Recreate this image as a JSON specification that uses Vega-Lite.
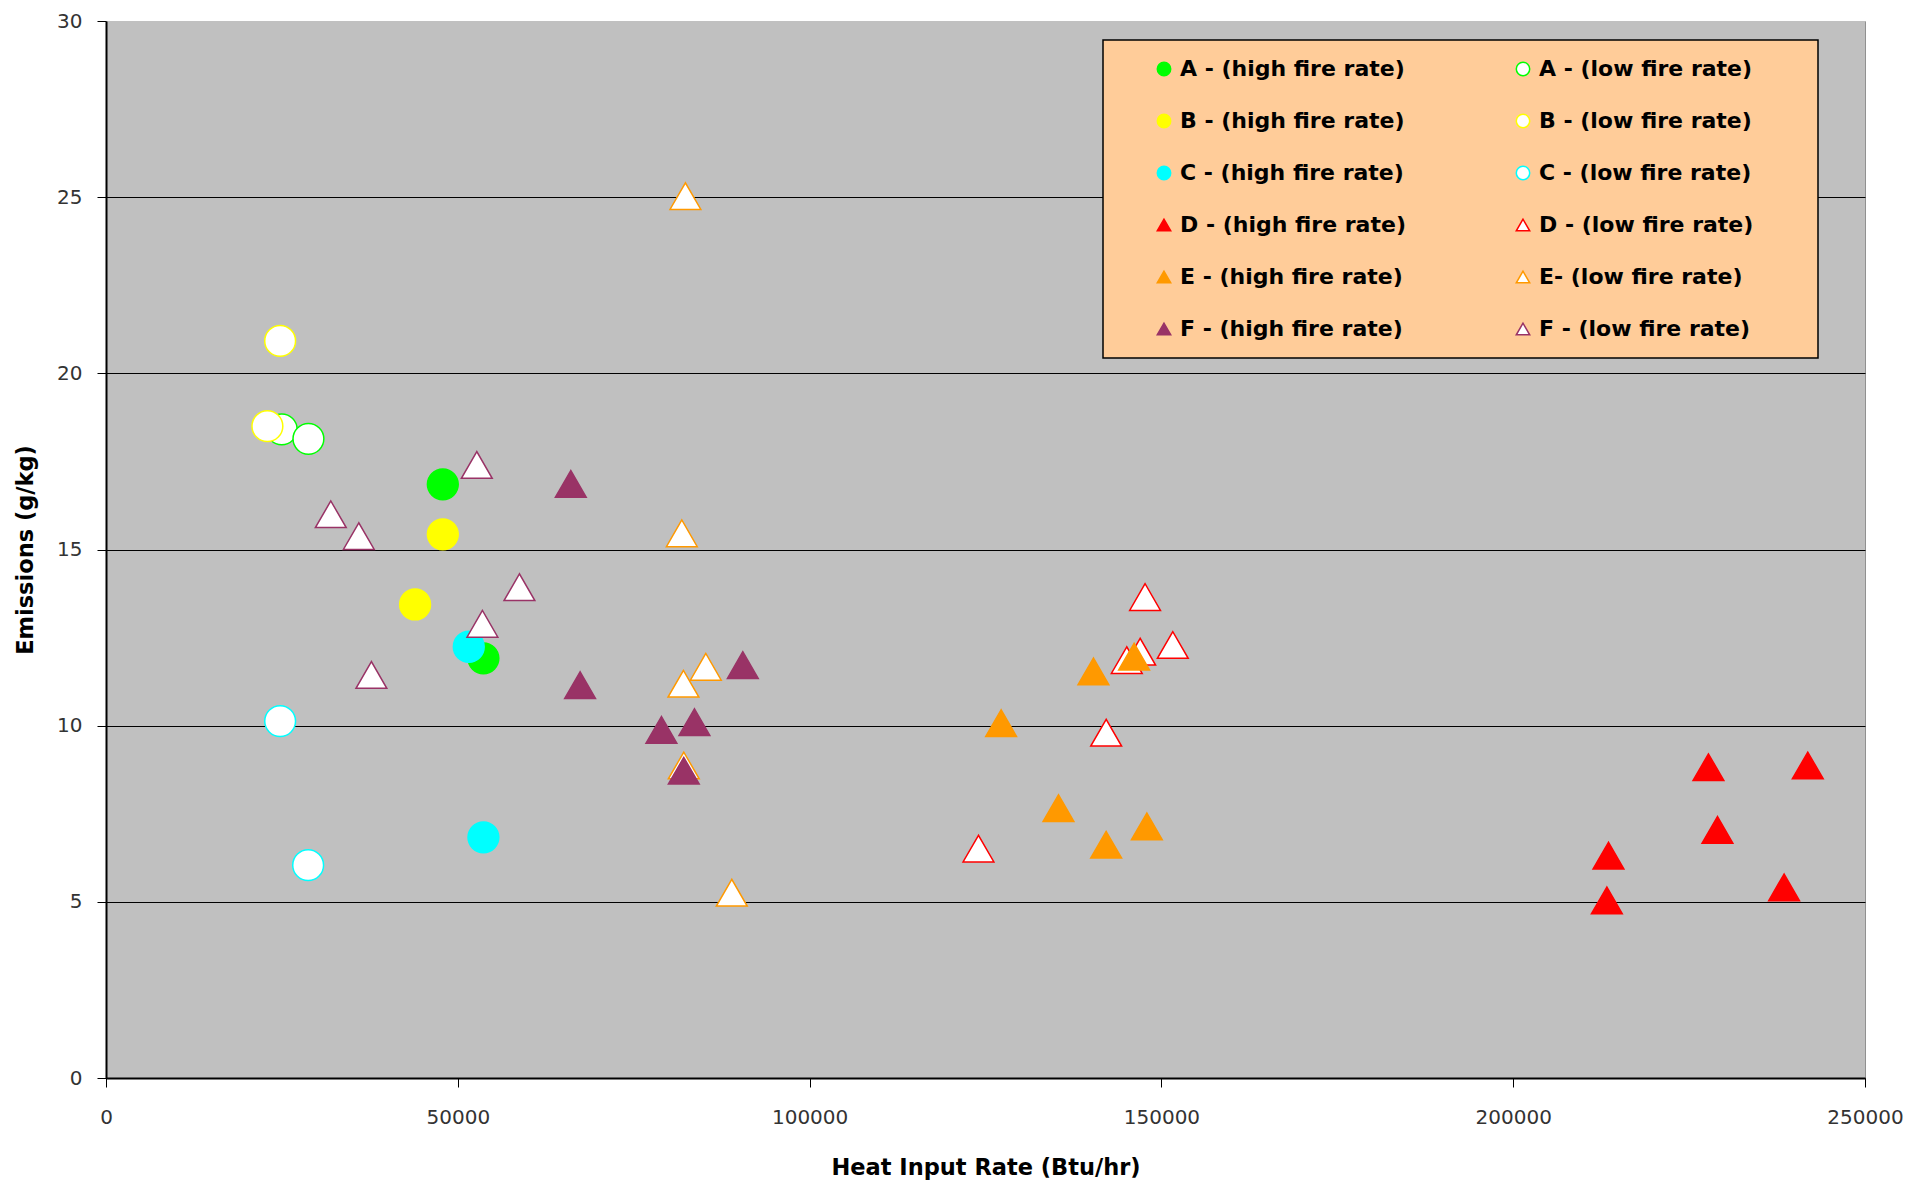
{
  "$schema": "https://vega.github.io/schema/vega-lite/v6.json",
  "width": 1759,
  "height": 1057,
  "autosize": {"type": "none"},
  "padding": {"left": 106, "top": 21, "right": 65, "bottom": 105},
  "background": "white",
  "config": {
    "view": {"fill": "#C0C0C0", "stroke": "#909090", "strokeWidth": 1},
    "font": "DejaVu Sans",
    "legend": {
      "orient": "none",
      "legendX": 997,
      "legendY": 19,
      "columns": 2,
      "direction": "horizontal",
      "fillColor": "#FFCC99",
      "strokeColor": "black",
      "strokeWidth": 1.5,
      "padding": 18,
      "symbolOffset": 32,
      "labelFont": "DejaVu Sans",
      "labelFontWeight": "bold",
      "labelFontSize": 22,
      "labelColor": "black",
      "labelLimit": 500,
      "labelOffset": 5,
      "symbolSize": 180,
      "symbolStrokeWidth": 1.5,
      "rowPadding": 30,
      "columnPadding": 74
    }
  },
  "data": {
    "values": [
      {"series": "A - (high fire rate)", "heat": 47870, "emis": 16.85},
      {"series": "A - (high fire rate)", "heat": 53640, "emis": 11.91},
      {"series": "A - (low fire rate)", "heat": 24980, "emis": 18.41},
      {"series": "A - (low fire rate)", "heat": 28770, "emis": 18.14},
      {"series": "B - (high fire rate)", "heat": 47870, "emis": 15.43},
      {"series": "B - (high fire rate)", "heat": 43930, "emis": 13.44},
      {"series": "B - (low fire rate)", "heat": 24750, "emis": 20.92},
      {"series": "B - (low fire rate)", "heat": 22940, "emis": 18.5},
      {"series": "C - (high fire rate)", "heat": 51560, "emis": 12.24},
      {"series": "C - (high fire rate)", "heat": 53640, "emis": 6.83},
      {"series": "C - (low fire rate)", "heat": 24750, "emis": 10.13},
      {"series": "C - (low fire rate)", "heat": 28730, "emis": 6.04},
      {"series": "D - (high fire rate)", "heat": 227750, "emis": 8.82},
      {"series": "D - (high fire rate)", "heat": 241870, "emis": 8.87},
      {"series": "D - (high fire rate)", "heat": 229030, "emis": 7.04},
      {"series": "D - (high fire rate)", "heat": 213540, "emis": 6.31},
      {"series": "D - (high fire rate)", "heat": 213310, "emis": 5.04},
      {"series": "D - (high fire rate)", "heat": 238500, "emis": 5.41},
      {"series": "D - (low fire rate)", "heat": 147680, "emis": 13.65},
      {"series": "D - (low fire rate)", "heat": 151620, "emis": 12.29},
      {"series": "D - (low fire rate)", "heat": 146980, "emis": 12.1},
      {"series": "D - (low fire rate)", "heat": 145080, "emis": 11.86},
      {"series": "D - (low fire rate)", "heat": 142150, "emis": 9.8},
      {"series": "D - (low fire rate)", "heat": 124000, "emis": 6.51},
      {"series": "E - (high fire rate)", "heat": 146120, "emis": 11.96},
      {"series": "E - (high fire rate)", "heat": 140340, "emis": 11.54},
      {"series": "E - (high fire rate)", "heat": 127220, "emis": 10.07},
      {"series": "E - (high fire rate)", "heat": 135370, "emis": 7.66},
      {"series": "E - (high fire rate)", "heat": 147930, "emis": 7.14},
      {"series": "E - (high fire rate)", "heat": 142150, "emis": 6.62},
      {"series": "E- (low fire rate)", "heat": 82350, "emis": 25.03},
      {"series": "E- (low fire rate)", "heat": 81840, "emis": 15.46},
      {"series": "E- (low fire rate)", "heat": 82070, "emis": 11.19},
      {"series": "E- (low fire rate)", "heat": 85250, "emis": 11.67},
      {"series": "E- (low fire rate)", "heat": 82120, "emis": 8.87},
      {"series": "E- (low fire rate)", "heat": 88940, "emis": 5.26},
      {"series": "F - (high fire rate)", "heat": 66060, "emis": 16.86},
      {"series": "F - (high fire rate)", "heat": 67380, "emis": 11.15},
      {"series": "F - (high fire rate)", "heat": 90510, "emis": 11.72},
      {"series": "F - (high fire rate)", "heat": 78940, "emis": 9.88},
      {"series": "F - (high fire rate)", "heat": 83630, "emis": 10.1},
      {"series": "F - (high fire rate)", "heat": 82120, "emis": 8.72},
      {"series": "F - (low fire rate)", "heat": 52700, "emis": 17.4},
      {"series": "F - (low fire rate)", "heat": 31950, "emis": 16.0},
      {"series": "F - (low fire rate)", "heat": 35930, "emis": 15.38},
      {"series": "F - (low fire rate)", "heat": 58760, "emis": 13.93},
      {"series": "F - (low fire rate)", "heat": 53500, "emis": 12.89},
      {"series": "F - (low fire rate)", "heat": 37720, "emis": 11.44}
    ]
  },
  "mark": {"type": "point", "size": 950, "strokeWidth": 1.5, "opacity": 1},
  "encoding": {
    "x": {
      "field": "heat",
      "type": "quantitative",
      "scale": {"domain": [0, 250000], "nice": false, "zero": false},
      "axis": {
        "title": "Heat Input Rate (Btu/hr)",
        "values": [0, 50000, 100000, 150000, 200000, 250000],
        "format": "d",
        "grid": false,
        "domainColor": "black",
        "domainWidth": 2,
        "tickColor": "black",
        "tickSize": 9,
        "tickWidth": 1,
        "labelFont": "DejaVu Sans",
        "labelFontSize": 20,
        "labelColor": "#333333",
        "labelPadding": 20,
        "labelFlush": false,
        "titleFont": "DejaVu Sans",
        "titleFontSize": 22.5,
        "titleFontWeight": "bold",
        "titleColor": "black",
        "titleBaseline": "middle",
        "titleY": 89
      }
    },
    "y": {
      "field": "emis",
      "type": "quantitative",
      "scale": {"domain": [0, 30], "nice": false},
      "axis": {
        "title": "Emissions (g/kg)",
        "values": [0, 5, 10, 15, 20, 25, 30],
        "grid": true,
        "gridColor": {"condition": {"test": "datum.value == 30", "value": "#C0C0C0"}, "value": "black"},
        "gridWidth": 1.2,
        "domainColor": "black",
        "domainWidth": 2,
        "tickColor": "black",
        "tickSize": 9,
        "tickWidth": 1,
        "labelFont": "DejaVu Sans",
        "labelFontSize": 20,
        "labelColor": "#333333",
        "labelPadding": 15,
        "labelFlush": false,
        "titleFont": "DejaVu Sans",
        "titleFontSize": 22.5,
        "titleFontWeight": "bold",
        "titleColor": "black",
        "titleX": -69
      }
    },
    "fill": {
      "field": "series",
      "type": "nominal",
      "scale": {
        "domain": ["A - (high fire rate)", "A - (low fire rate)", "B - (high fire rate)", "B - (low fire rate)", "C - (high fire rate)", "C - (low fire rate)", "D - (high fire rate)", "D - (low fire rate)", "E - (high fire rate)", "E- (low fire rate)", "F - (high fire rate)", "F - (low fire rate)"],
        "range": ["#00FF00", "#FFFFFF", "#FFFF00", "#FFFFFF", "#00FFFF", "#FFFFFF", "#FF0000", "#FFFFFF", "#FF9900", "#FFFFFF", "#993366", "#FFFFFF"]
      },
      "legend": {"title": null, "labelExpr": "indexof(datum.label, 'low') >= 0 ? datum.label + '\u00a0\u00a0\u00a0\u00a0\u00a0\u00a0\u200b' : datum.label"}
    },
    "stroke": {
      "field": "series",
      "type": "nominal",
      "scale": {
        "domain": ["A - (high fire rate)", "A - (low fire rate)", "B - (high fire rate)", "B - (low fire rate)", "C - (high fire rate)", "C - (low fire rate)", "D - (high fire rate)", "D - (low fire rate)", "E - (high fire rate)", "E- (low fire rate)", "F - (high fire rate)", "F - (low fire rate)"],
        "range": ["#00FF00", "#00FF00", "#FFFF00", "#FFFF00", "#00FFFF", "#00FFFF", "#FF0000", "#FF0000", "#FF9900", "#FF9900", "#993366", "#993366"]
      },
      "legend": {"title": null, "labelExpr": "indexof(datum.label, 'low') >= 0 ? datum.label + '\u00a0\u00a0\u00a0\u00a0\u00a0\u00a0\u200b' : datum.label"}
    },
    "shape": {
      "field": "series",
      "type": "nominal",
      "scale": {
        "domain": ["A - (high fire rate)", "A - (low fire rate)", "B - (high fire rate)", "B - (low fire rate)", "C - (high fire rate)", "C - (low fire rate)", "D - (high fire rate)", "D - (low fire rate)", "E - (high fire rate)", "E- (low fire rate)", "F - (high fire rate)", "F - (low fire rate)"],
        "range": ["circle", "circle", "circle", "circle", "circle", "circle", "triangle-up", "triangle-up", "triangle-up", "triangle-up", "triangle-up", "triangle-up"]
      },
      "legend": {"title": null, "labelExpr": "indexof(datum.label, 'low') >= 0 ? datum.label + '\u00a0\u00a0\u00a0\u00a0\u00a0\u00a0\u200b' : datum.label"}
    }
  }
}
